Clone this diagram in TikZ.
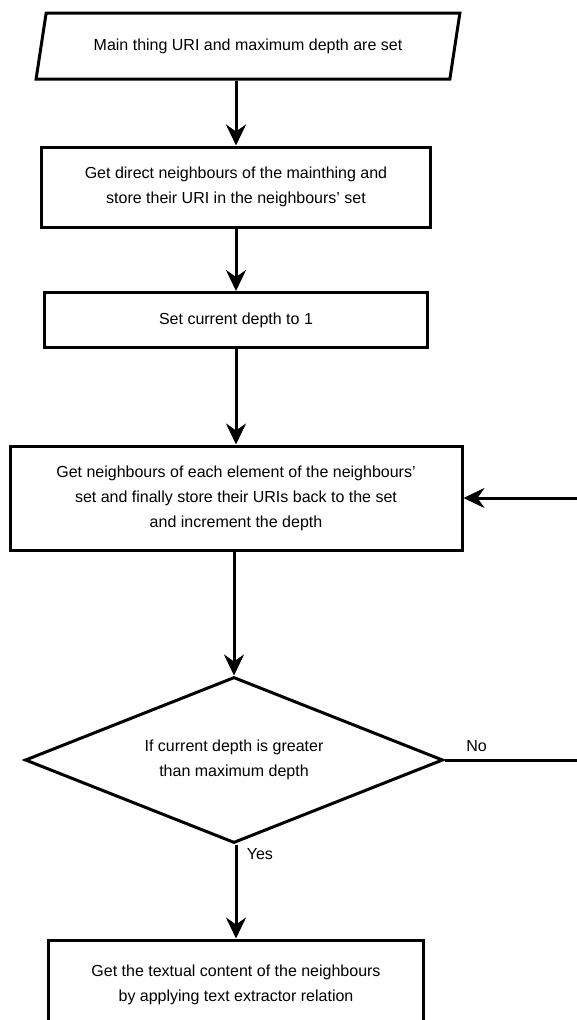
\documentclass[tikz,border=0pt]{standalone}
\usepackage{fontspec}
\setmainfont{Liberation Sans}
\usepackage{tikz}
\usetikzlibrary{shapes.geometric, arrows.meta}
\tikzstyle{inputbox} = [trapezium, trapezium left angle=70, trapezium right angle=110, trapezium stretches=true, minimum width=426pt, minimum height=66pt, text centered, draw=black, line width=3pt, font=\fontsize{16}{25}\selectfont]
\tikzstyle{process} = [rectangle, text centered, align=center, draw=black, line width=3pt, font=\fontsize{16}{25}\selectfont]
\tikzstyle{decision} = [diamond, shape aspect=2.5, minimum width=418pt, minimum height=166pt, text centered, align=center, draw=black, line width=3pt, inner sep=0pt, font=\fontsize{16}{25}\selectfont]
\tikzstyle{arrow} = [line width=3pt, -{Stealth[length=21pt, width=20pt, inset=7pt]}]
\tikzstyle{label} = [font=\fontsize{16}{25}\selectfont]

\begin{document}
\begin{tikzpicture}[x=1pt, y=-1pt, node distance=141pt]
    \useasboundingbox (0,0) rectangle (576,1020);
    % Nodes
    \node (set_input) [inputbox] at (248,46) {Main thing URI and maximum depth are set};
    \node (get_direct) [process, minimum width=389pt, minimum height=80pt, below of=set_input, xshift=-12pt] {Get direct neighbours of the mainthing and\\ store their URI in the neighbours' set};
    \node (set_depth) [process, minimum width=383pt, minimum height=55pt, below of=get_direct, yshift=8pt] {Set current depth to 1};
    \node (get_neigh) [process, minimum width=452pt, minimum height=104pt, below of=set_depth, yshift=-37pt] {Get neighbours of each element of the neighbours'\\ set and finally store their URIs back to the set\\ and increment the depth};
    \node (check_depth) [decision, below of=get_neigh, yshift=-121pt, xshift=-2pt] {If current depth is greater\\ than maximum depth};
    \node (get_text) [process, minimum width=375pt, minimum height=90pt, below of=check_depth, yshift=-84pt, xshift=2pt] {Get the textual content of the neighbours\\ by applying text extractor relation};
    % Arrows
    \draw [arrow] (set_input.south -| get_direct.north) -- (get_direct);
    \draw [arrow] (get_direct) -- (set_depth);
    \draw [arrow] (set_depth) -- (get_neigh);
    \draw [arrow] (get_neigh.south -| check_depth.north) -- (check_depth);
    \draw [arrow] (check_depth.south -| get_text.north) -- node[label, pos=0.1, right, xshift=6pt] {Yes} (get_text);
    \draw [arrow] (check_depth.east) -- node[label, pos=0.1, anchor=south west, yshift=4pt] {No} ([xshift=170pt]check_depth.east) |- (get_neigh.east);
\end{tikzpicture}
\end{document}
